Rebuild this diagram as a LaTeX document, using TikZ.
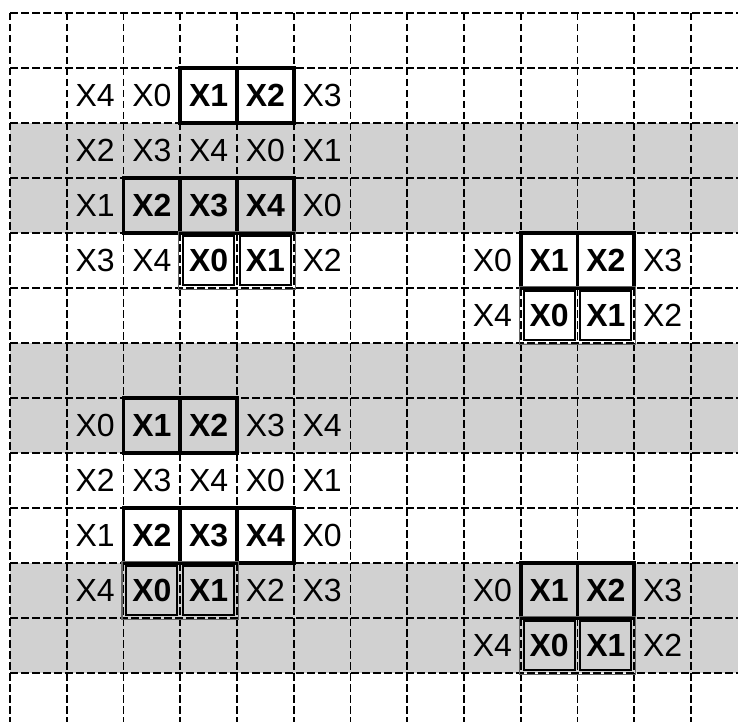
\documentclass[tikz,border=0pt]{standalone}
\usepackage{fontspec}
\setmainfont{Liberation Sans}
\begin{document}
\begin{tikzpicture}[x=1pt,y=-1pt,
  shade/.style={fill=black!18, draw=none},
  gridline/.style={line width=1.9pt, dash pattern=on 7.5pt off 3.5pt},
  txt/.style={inner sep=0pt, font=\fontsize{32}{32}\selectfont},
  boldbox/.style={draw, line width=3.8pt, minimum width=56.75pt, minimum height=55pt, inner sep=0pt, font=\fontsize{32}{32}\selectfont\bfseries},
  dblbox/.style={draw, line width=1.8pt, minimum width=51pt, minimum height=49.5pt, inner sep=0pt, font=\fontsize{32}{32}\selectfont\bfseries},
  dblouter/.style={draw=black!60, line width=1.4pt}
]
\def\CW{56.75}\def\RH{55}
\useasboundingbox (0,0) rectangle (738,722);
% shaded rows
\foreach \r in {2,6,10}{
  \fill[shade] (10,{13+\RH*\r}) rectangle (738,{13+\RH*(\r+2)});
}
% grid
\foreach \k in {0,...,12}{
  \draw[gridline] ({10+\CW*\k},13) -- ({10+\CW*\k},722);
  \draw[gridline] (10,{13+\RH*\k}) -- (738,{13+\RH*\k});
}
% plain texts: col/row/text
\foreach \c/\r/\t [count=\i] in {
  1/1/X4, 2/1/X0, 5/1/X3,
  1/2/X2, 2/2/X3, 3/2/X4, 4/2/X0, 5/2/X1,
  1/3/X1, 5/3/X0,
  1/4/X3, 2/4/X4, 5/4/X2, 8/4/X0, 11/4/X3,
  8/5/X4, 11/5/X2,
  1/7/X0, 4/7/X3, 5/7/X4,
  1/8/X2, 2/8/X3, 3/8/X4, 4/8/X0, 5/8/X1,
  1/9/X1, 5/9/X0,
  1/10/X4, 4/10/X2, 5/10/X3, 8/10/X0, 11/10/X3,
  8/11/X4, 11/11/X2}{
  \node[txt] (p\i) at ({10+\CW*(\c+0.5)},{13+\RH*(\r+0.5)}) {\t};
}
% bold boxed cells
\foreach \c/\r/\t [count=\i] in {
  3/1/X1, 4/1/X2,
  2/3/X2, 3/3/X3, 4/3/X4,
  9/4/X1, 10/4/X2,
  2/7/X1, 3/7/X2,
  2/9/X2, 3/9/X3, 4/9/X4,
  9/10/X1, 10/10/X2}{
  \node[boldbox] (b\i) at ({10+\CW*(\c+0.5)},{13+\RH*(\r+0.5)}) {\t};
}
% double boxed pairs: left col / row
\foreach \c/\r [count=\i] in {3/4, 9/5, 2/10, 9/11}{
  \draw[dblouter] ({10+\CW*\c-1.5},{13+\RH*\r-1.5}) rectangle ({10+\CW*(\c+2)+1.5},{13+\RH*(\r+1)+1.5});
  \node[dblbox] (dA\i) at ({10+\CW*(\c+0.5)},{13+\RH*(\r+0.5)}) {X0};
  \node[dblbox] (dB\i) at ({10+\CW*(\c+1.5)},{13+\RH*(\r+0.5)}) {X1};
}
\end{tikzpicture}
\end{document}
